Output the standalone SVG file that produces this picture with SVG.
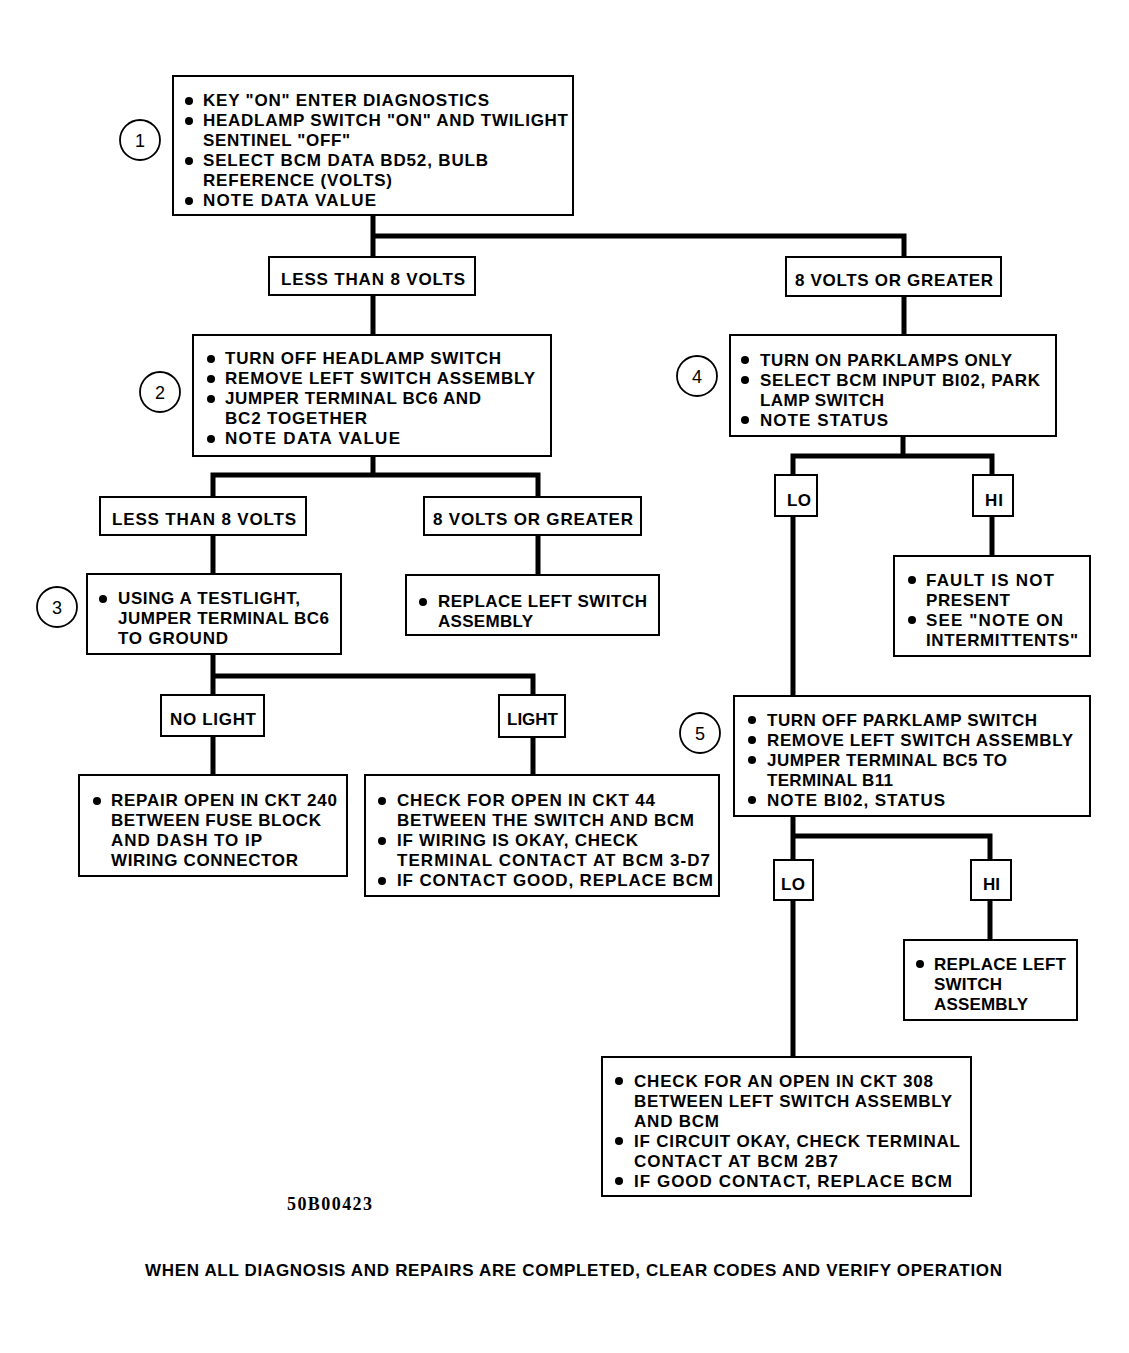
<svg xmlns="http://www.w3.org/2000/svg" width="1129" height="1353" viewBox="0 0 1129 1353">
<style>
.b{fill:#fff;stroke:#000;stroke-width:2}
.t{font-family:"Liberation Sans",Arial,sans-serif;font-size:17px;font-weight:bold;fill:#000}
.c{fill:#fff;stroke:#000;stroke-width:1.8}
.n{font-family:"Liberation Sans",Arial,sans-serif;font-size:18px;fill:#000;text-anchor:middle}
.w{fill:none;stroke:#000;stroke-width:5;stroke-linejoin:miter;stroke-linecap:butt}
</style>
<rect width="1129" height="1353" fill="#fff"/>
<g id="connectors">
<path class="w" d="M373 215V335M373 236H904V335"/>
<path class="w" d="M373 456V475M213 497V475H538V497M213 535V574M538 535V575"/>
<path class="w" d="M213 654V695M213 676H533V695M213 736V775M533 737V775"/>
<path class="w" d="M903 436V456M793 475V456H992V475M992 516V556M793 516V696"/>
<path class="w" d="M793 816V860M793 836H990V860M990 900V940M793 900V1057"/>
</g>
<g id="n1">
<circle class="c" cx="140" cy="140" r="20"/><text class="n" x="140" y="147">1</text>
<rect class="b" x="173" y="76" width="400" height="139"/>
<circle cx="189" cy="101" r="4"/><text class="t" x="203" y="106" textLength="286">KEY "ON" ENTER DIAGNOSTICS</text>
<circle cx="189" cy="121" r="4"/><text class="t" x="203" y="126" textLength="365">HEADLAMP SWITCH "ON" AND TWILIGHT</text>
<text class="t" x="203" y="146" textLength="147">SENTINEL "OFF"</text>
<circle cx="189" cy="161" r="4"/><text class="t" x="203" y="166" textLength="285">SELECT BCM DATA BD52, BULB</text>
<text class="t" x="203" y="186" textLength="189">REFERENCE (VOLTS)</text>
<circle cx="189" cy="201" r="4"/><text class="t" x="203" y="206" textLength="173">NOTE DATA VALUE</text>
</g>
<g id="l1">
<rect class="b" x="269" y="257" width="206" height="38"/><text class="t" x="281" y="285" textLength="184">LESS THAN 8 VOLTS</text>
</g>
<g id="r1">
<rect class="b" x="786" y="257" width="215" height="39"/><text class="t" x="795" y="286" textLength="198">8 VOLTS OR GREATER</text>
</g>
<g id="n2">
<circle class="c" cx="160" cy="392" r="20"/><text class="n" x="160" y="399">2</text>
<rect class="b" x="193" y="335" width="358" height="121"/>
<circle cx="211" cy="359" r="4"/><text class="t" x="225" y="364" textLength="276">TURN OFF HEADLAMP SWITCH</text>
<circle cx="211" cy="379" r="4"/><text class="t" x="225" y="384" textLength="310">REMOVE LEFT SWITCH ASSEMBLY</text>
<circle cx="211" cy="399" r="4"/><text class="t" x="225" y="404" textLength="256">JUMPER TERMINAL BC6 AND</text>
<text class="t" x="225" y="424" textLength="142">BC2 TOGETHER</text>
<circle cx="211" cy="439" r="4"/><text class="t" x="225" y="444" textLength="175">NOTE DATA VALUE</text>
</g>
<g id="l2">
<rect class="b" x="100" y="497" width="206" height="38"/><text class="t" x="112" y="525" textLength="184">LESS THAN 8 VOLTS</text>
</g>
<g id="r2">
<rect class="b" x="424" y="497" width="217" height="38"/><text class="t" x="433" y="525" textLength="200">8 VOLTS OR GREATER</text>
</g>
<g id="n3">
<circle class="c" cx="57" cy="607" r="20"/><text class="n" x="57" y="614">3</text>
<rect class="b" x="87" y="574" width="254" height="80"/>
<circle cx="103" cy="599" r="4"/><text class="t" x="118" y="604" textLength="182">USING A TESTLIGHT,</text>
<text class="t" x="118" y="624" textLength="211">JUMPER TERMINAL BC6</text>
<text class="t" x="118" y="644" textLength="110">TO GROUND</text>
</g>
<g id="replace1">
<rect class="b" x="406" y="575" width="253" height="60"/>
<circle cx="423" cy="602" r="4"/><text class="t" x="438" y="607" textLength="209">REPLACE LEFT SWITCH</text>
<text class="t" x="438" y="627" textLength="95">ASSEMBLY</text>
</g>
<g id="nolight">
<rect class="b" x="161" y="695" width="103" height="41"/><text class="t" x="170" y="725" textLength="86">NO LIGHT</text>
</g>
<g id="light">
<rect class="b" x="499" y="695" width="66" height="42"/><text class="t" x="507" y="725" textLength="51">LIGHT</text>
</g>
<g id="repair">
<rect class="b" x="79" y="775" width="268" height="101"/>
<circle cx="97" cy="801" r="4"/><text class="t" x="111" y="806" textLength="226">REPAIR OPEN IN CKT 240</text>
<text class="t" x="111" y="826" textLength="210">BETWEEN FUSE BLOCK</text>
<text class="t" x="111" y="846" textLength="151">AND DASH TO IP</text>
<text class="t" x="111" y="866" textLength="187">WIRING CONNECTOR</text>
</g>
<g id="check44">
<rect class="b" x="365" y="775" width="354" height="121"/>
<circle cx="382" cy="801" r="4"/><text class="t" x="397" y="806" textLength="258">CHECK FOR OPEN IN CKT 44</text>
<text class="t" x="397" y="826" textLength="297">BETWEEN THE SWITCH AND BCM</text>
<circle cx="382" cy="841" r="4"/><text class="t" x="397" y="846" textLength="241">IF WIRING IS OKAY, CHECK</text>
<text class="t" x="397" y="866" textLength="313">TERMINAL CONTACT AT BCM 3-D7</text>
<circle cx="382" cy="881" r="4"/><text class="t" x="397" y="886" textLength="316">IF CONTACT GOOD, REPLACE BCM</text>
</g>
<g id="n4">
<circle class="c" cx="697" cy="376" r="20"/><text class="n" x="697" y="383">4</text>
<rect class="b" x="730" y="335" width="326" height="101"/>
<circle cx="745" cy="360" r="4"/><text class="t" x="760" y="366" textLength="252">TURN ON PARKLAMPS ONLY</text>
<circle cx="745" cy="380" r="4"/><text class="t" x="760" y="386" textLength="280">SELECT BCM INPUT BI02, PARK</text>
<text class="t" x="760" y="406" textLength="124">LAMP SWITCH</text>
<circle cx="745" cy="420" r="4"/><text class="t" x="760" y="426" textLength="128">NOTE STATUS</text>
</g>
<g id="lo1">
<rect class="b" x="775" y="475" width="42" height="41"/><text class="t" x="787" y="506" textLength="24">LO</text>
</g>
<g id="hi1">
<rect class="b" x="973" y="475" width="40" height="41"/><text class="t" x="985" y="506" textLength="18">HI</text>
</g>
<g id="fault">
<rect class="b" x="894" y="556" width="196" height="100"/>
<circle cx="912" cy="580" r="4"/><text class="t" x="926" y="586" textLength="128">FAULT IS NOT</text>
<text class="t" x="926" y="606" textLength="84">PRESENT</text>
<circle cx="912" cy="620" r="4"/><text class="t" x="926" y="626" textLength="137">SEE "NOTE ON</text>
<text class="t" x="926" y="646" textLength="152">INTERMITTENTS"</text>
</g>
<g id="n5">
<circle class="c" cx="700" cy="733" r="20"/><text class="n" x="700" y="740">5</text>
<rect class="b" x="734" y="696" width="356" height="120"/>
<circle cx="752" cy="720" r="4"/><text class="t" x="767" y="726" textLength="270">TURN OFF PARKLAMP SWITCH</text>
<circle cx="752" cy="740" r="4"/><text class="t" x="767" y="746" textLength="306">REMOVE LEFT SWITCH ASSEMBLY</text>
<circle cx="752" cy="760" r="4"/><text class="t" x="767" y="766" textLength="240">JUMPER TERMINAL BC5 TO</text>
<text class="t" x="767" y="786" textLength="126">TERMINAL B11</text>
<circle cx="752" cy="800" r="4"/><text class="t" x="767" y="806" textLength="178">NOTE BI02, STATUS</text>
</g>
<g id="lo2">
<rect class="b" x="774" y="860" width="39" height="40"/><text class="t" x="781" y="890" textLength="24">LO</text>
</g>
<g id="hi2">
<rect class="b" x="971" y="860" width="40" height="40"/><text class="t" x="983" y="890" textLength="17">HI</text>
</g>
<g id="replace2">
<rect class="b" x="904" y="940" width="173" height="80"/>
<circle cx="920" cy="964" r="4"/><text class="t" x="934" y="970" textLength="132">REPLACE LEFT</text>
<text class="t" x="934" y="990" textLength="68">SWITCH</text>
<text class="t" x="934" y="1010" textLength="94">ASSEMBLY</text>
</g>
<g id="check308">
<rect class="b" x="602" y="1057" width="369" height="139"/>
<circle cx="619" cy="1081" r="4"/><text class="t" x="634" y="1087" textLength="299">CHECK FOR AN OPEN IN CKT 308</text>
<text class="t" x="634" y="1107" textLength="318">BETWEEN LEFT SWITCH ASSEMBLY</text>
<text class="t" x="634" y="1127" textLength="85">AND BCM</text>
<circle cx="619" cy="1141" r="4"/><text class="t" x="634" y="1147" textLength="326">IF CIRCUIT OKAY, CHECK TERMINAL</text>
<text class="t" x="634" y="1167" textLength="204">CONTACT AT BCM 2B7</text>
<circle cx="619" cy="1181" r="4"/><text class="t" x="634" y="1187" textLength="318">IF GOOD CONTACT, REPLACE BCM</text>
</g>
<text x="287" y="1210" font-family="Liberation Serif,serif" font-size="18" font-weight="bold" textLength="85">50B00423</text>
<text class="t" x="145" y="1276" textLength="857">WHEN ALL DIAGNOSIS AND REPAIRS ARE COMPLETED, CLEAR CODES AND VERIFY OPERATION</text>
</svg>
